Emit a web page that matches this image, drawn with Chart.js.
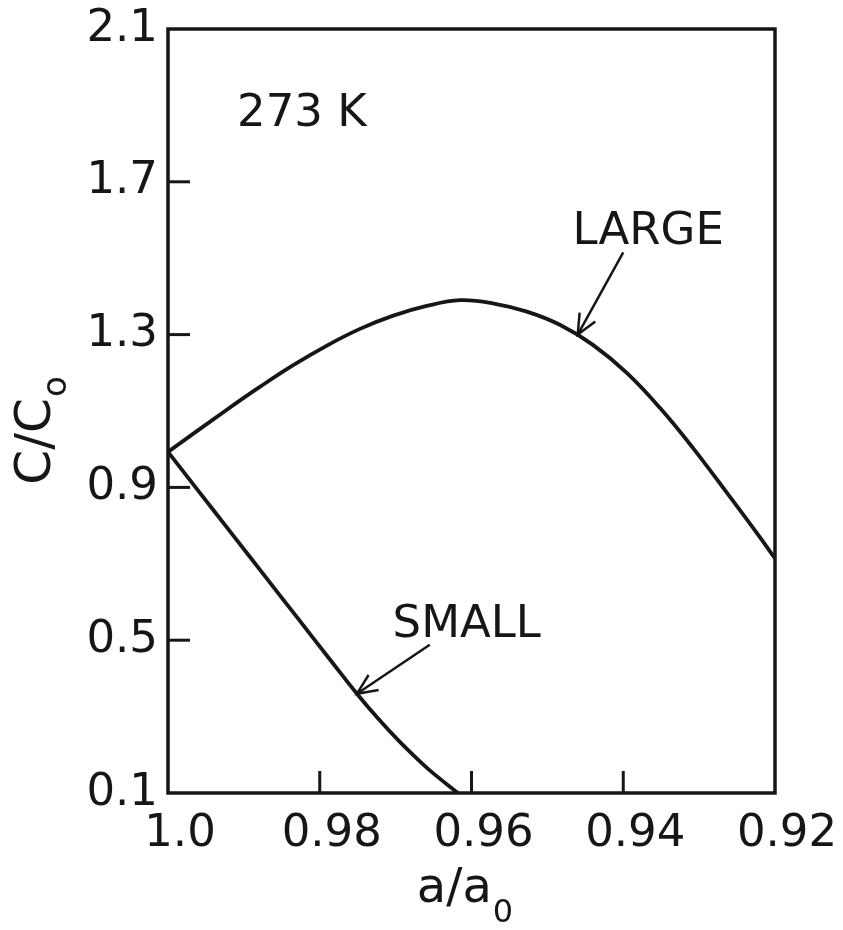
<!DOCTYPE html>
<html>
<head>
<meta charset="utf-8">
<script src="https://cdn.jsdelivr.net/npm/chart.js@4.4.1/dist/chart.umd.min.js"></script>
<style>
  html, body { margin: 0; padding: 0; background: #ffffff; }
  #wrap { width: 843px; height: 930px; }
</style>
</head>
<body>
<div id="wrap"><canvas id="c" width="843" height="930"></canvas></div>
<script>
// Relative lattice parameter a/a0 and normalised concentration C/C0, 273 K
const largeA = [1.0, 0.9922, 0.9879, 0.9835, 0.9790, 0.9747, 0.9704, 0.9659, 0.9615, 0.9572, 0.9527, 0.9483, 0.9440, 0.9395, 0.9352, 0.9308, 0.9263, 0.9220, 0.9200];
const largeC = [0.993, 1.104, 1.163, 1.220, 1.272, 1.315, 1.349, 1.375, 1.390, 1.382, 1.360, 1.325, 1.273, 1.199, 1.109, 1.003, 0.885, 0.770, 0.714];
const smallA = [1.0, 0.9960, 0.9916, 0.9872, 0.9828, 0.9784, 0.9751, 0.9724, 0.9697, 0.9675, 0.9653, 0.9618];
const smallC = [0.993, 0.891, 0.779, 0.667, 0.555, 0.443, 0.360, 0.297, 0.239, 0.196, 0.156, 0.100];

const xTickLabels = ['1.0', '0.98', '0.96', '0.94', '0.92'];
const yTickLabels = ['0.1', '0.5', '0.9', '1.3', '1.7', '2.1'];

// Text labels in data coordinates (a/a0, C/C0)
const noteText = ['273 K', 'LARGE', 'SMALL'];
const noteA = [0.9909, 0.9467, 0.9704];
const noteC = [1.846, 1.536, 0.509];
// Arrows: tail -> tip, in data coordinates
const arrowFromA = [null, 0.9400, 0.9655];
const arrowFromC = [null, 1.515, 0.488];
const arrowToA = [null, 0.9460, 0.9751];
const arrowToC = [null, 1.300, 0.360];

const INK = '#161616';
const FONT = '"DejaVu Sans", sans-serif';

function pairs(xs, ys) { return xs.map((x, i) => ({ x: x, y: ys[i] })); }
function labelFor(list, v) {
  const hit = list.find(s => Math.abs(parseFloat(s) - v) < 1e-6);
  return hit === undefined ? '' : hit;
}

const frameAndNotes = {
  id: 'frameAndNotes',
  afterDraw(chart) {
    const ctx = chart.ctx;
    const area = chart.chartArea;
    const xs = chart.scales.x, ys = chart.scales.y;
    ctx.save();
    ctx.strokeStyle = INK;
    ctx.fillStyle = INK;
    ctx.lineCap = 'butt';

    // plot frame
    ctx.lineWidth = 3.5;
    ctx.strokeRect(area.left, area.top, area.right - area.left, area.bottom - area.top);

    // inward tick marks
    ctx.lineWidth = 3;
    const tickLen = 22;
    ys.ticks.forEach(t => {
      const py = ys.getPixelForValue(t.value);
      if (Math.abs(py - area.top) < 2 || Math.abs(py - area.bottom) < 2) return;
      ctx.beginPath(); ctx.moveTo(area.left, py); ctx.lineTo(area.left + tickLen, py); ctx.stroke();
    });
    xs.ticks.forEach(t => {
      const px = xs.getPixelForValue(t.value);
      if (Math.abs(px - area.left) < 2 || Math.abs(px - area.right) < 2) return;
      ctx.beginPath(); ctx.moveTo(px, area.bottom); ctx.lineTo(px, area.bottom - tickLen); ctx.stroke();
    });

    // annotations
    ctx.font = '45px ' + FONT;
    ctx.textAlign = 'left';
    ctx.textBaseline = 'alphabetic';
    noteText.forEach((txt, i) => {
      ctx.fillText(txt, xs.getPixelForValue(noteA[i]), ys.getPixelForValue(noteC[i]));
      if (arrowFromA[i] === null) return;
      const x0 = xs.getPixelForValue(arrowFromA[i]), y0 = ys.getPixelForValue(arrowFromC[i]);
      const x1 = xs.getPixelForValue(arrowToA[i]), y1 = ys.getPixelForValue(arrowToC[i]);
      ctx.lineWidth = 2.5;
      ctx.beginPath(); ctx.moveTo(x0, y0); ctx.lineTo(x1, y1); ctx.stroke();
      const ang = Math.atan2(y0 - y1, x0 - x1);
      const wing = 22, spread = 0.42;
      ctx.beginPath();
      ctx.moveTo(x1 + wing * Math.cos(ang - spread), y1 + wing * Math.sin(ang - spread));
      ctx.lineTo(x1, y1);
      ctx.lineTo(x1 + wing * Math.cos(ang + spread), y1 + wing * Math.sin(ang + spread));
      ctx.stroke();
    });

    // x-axis title: a/a0
    const cx = (area.left + area.right) / 2 - 7;
    ctx.font = '48px ' + FONT;
    const main = 'a/a';
    const wMain = ctx.measureText(main).width;
    ctx.font = '32px ' + FONT;
    const wSub = ctx.measureText('0').width;
    const startX = cx - (wMain + wSub) / 2;
    ctx.font = '48px ' + FONT;
    ctx.fillText(main, startX, 902);
    ctx.font = '32px ' + FONT;
    ctx.fillText('0', startX + wMain + 1, 922);

    // y-axis title: C/Co (rotated)
    ctx.translate(50, (area.top + area.bottom) / 2 + 20);
    ctx.rotate(-Math.PI / 2);
    ctx.font = '50px ' + FONT;
    const yMain = 'C/C';
    const wy = ctx.measureText(yMain).width;
    ctx.font = '34px ' + FONT;
    const wys = ctx.measureText('o').width;
    const sx = -(wy + wys) / 2;
    ctx.font = '50px ' + FONT;
    ctx.fillText(yMain, sx, 0);
    ctx.font = '34px ' + FONT;
    ctx.fillText('o', sx + wy + 1, 16);

    ctx.restore();
  }
};

new Chart(document.getElementById('c'), {
  type: 'line',
  data: {
    datasets: [
      { label: 'LARGE', data: pairs(largeA, largeC) },
      { label: 'SMALL', data: pairs(smallA, smallC) }
    ]
  },
  options: {
    responsive: false,
    animation: false,
    events: [],
    layout: { padding: { top: 29, right: 68, left: 0, bottom: 0 } },
    elements: {
      line: { borderColor: INK, borderWidth: 3.8, tension: 0.4, cubicInterpolationMode: 'default', fill: false },
      point: { radius: 0 }
    },
    plugins: { legend: { display: false }, tooltip: { enabled: false } },
    scales: {
      x: {
        type: 'linear',
        reverse: true,
        min: 0.92, max: 1.0,
        afterFit: s => { s.height = 137; },
        grid: { display: false, drawTicks: false },
        border: { display: false },
        ticks: {
          stepSize: 0.02,
          padding: 14,
          labelOffset: 12,
          maxRotation: 0,
          color: INK,
          font: { family: FONT, size: 45 },
          callback: v => labelFor(xTickLabels, v)
        }
      },
      y: {
        type: 'linear',
        min: 0.1, max: 2.1,
        afterFit: s => { s.width = 168; },
        grid: { display: false, drawTicks: false },
        border: { display: false },
        ticks: {
          stepSize: 0.4,
          padding: 10,
          color: INK,
          font: { family: FONT, size: 45, lineHeight: 0.7 },
          callback: v => labelFor(yTickLabels, v)
        }
      }
    }
  },
  plugins: [frameAndNotes]
});
</script>
</body>
</html>
